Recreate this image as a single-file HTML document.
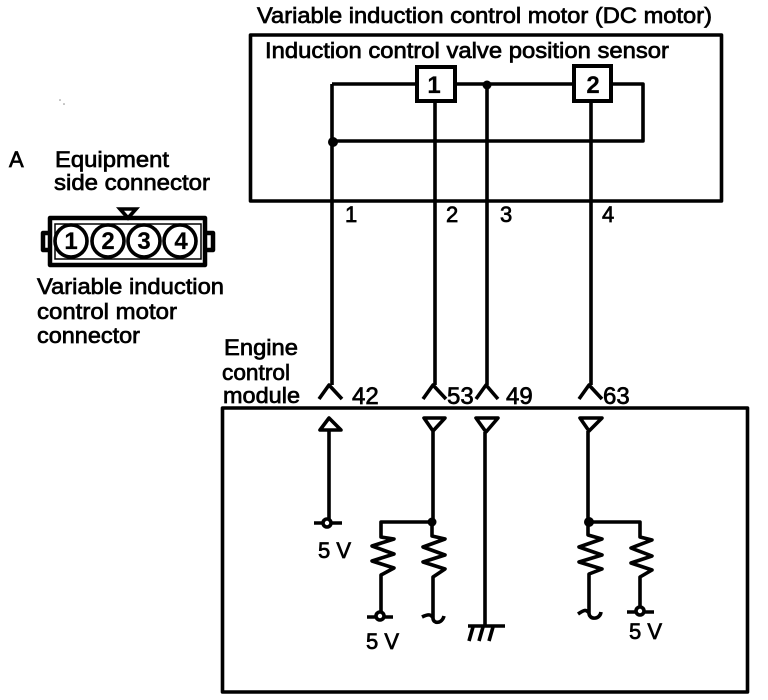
<!DOCTYPE html>
<html><head><meta charset="utf-8"><style>
html,body{margin:0;padding:0;background:#fff;width:768px;height:700px;overflow:hidden}
svg{display:block}
text{font-family:"Liberation Sans",sans-serif;font-size:22px;fill:#000;stroke:#000;stroke-width:.7px}
.w{fill:none;stroke:#000;stroke-width:3.6;stroke-linejoin:round}
.t{fill:#fff;stroke:#000;stroke-width:4}
.b{font-weight:bold;font-size:24px;stroke-width:.2px}
.n{font-size:24px}
</style></head><body>
<svg width="768" height="700" viewBox="0 0 768 700">
<rect width="768" height="700" fill="#fff"/>
<!-- boxes -->
<rect x="250.5" y="35" width="471" height="166" class="w"/>
<rect x="222.5" y="408" width="525" height="284" class="w"/>
<!-- top wiring -->
<path class="w" d="M332 84H416M456 84H573M612 84H643V141H332M332 84V385M435 102V385M487 84V385M591 102V385"/>
<circle cx="333" cy="142" r="5"/><circle cx="487" cy="85" r="4.5"/>
<rect x="417" y="67" width="38" height="34" class="t"/>
<rect x="574" y="66" width="37" height="35" class="t"/>
<text x="434" y="93" text-anchor="middle" class="b">1</text>
<text x="593" y="93" text-anchor="middle" class="b">2</text>
<!-- Y connectors -->
<path class="w" d="M319 399L329 385L342 399M423 399L433 385L446 399M476 399L486 385L498 399M579 399L589 385L602 399"/>
<!-- triangles -->
<path class="w" d="M329 430V520M329 418L320 430H341ZM424 418H445L433 431ZM433 431V522M476 418H498L486 432ZM485 432V626M580 418H602L589 431ZM588 431V522"/>
<!-- resistor networks -->
<path class="w" d="M432 522H381V537L394 539L372 546L394 554L372 561L394 568L381 575V612"/>
<path class="w" d="M432 522V536L445 539L423 547L445 555L423 562L445 569L433 577V618C433 624 442 624 444 616M433 618C431 614 428 614 422 617"/>
<path class="w" d="M588 522H640V537L652 540L631 548L652 556L631 563L652 570L640 577V610"/>
<path class="w" d="M588 522V535L602 539L579 547L602 555L579 562L602 569L589 574V613C589 620 600 620 601 612M589 613C586 609 584 610 578 614"/>
<circle cx="432" cy="522" r="4.5"/><circle cx="589" cy="522" r="5"/>
<!-- terminals -->
<g fill="#fff" stroke="#000" stroke-width="3.6">
<path d="M314 523H342M367 617H393M627 612H654"/>
<circle cx="327" cy="523" r="4"/><circle cx="380" cy="616" r="4"/><circle cx="640" cy="611" r="4"/>
</g>
<!-- ground -->
<path class="w" d="M468 626H505M473 627L469 641M483 627L479 641M493 627L489 641"/>
<!-- connector -->
<path class="w" style="stroke-width:4.5" d="M50 218H205V265H50ZM50 233H43V250H50M205 233H213V250H205"/>
<rect x="55" y="224" width="146" height="35" fill="none" stroke="#000" stroke-width="1.5"/>
<g fill="#fff" stroke="#000" stroke-width="3.6">
<circle cx="71" cy="241" r="16"/><circle cx="108" cy="241" r="16"/><circle cx="144" cy="241" r="16"/><circle cx="180" cy="241" r="16"/>
<path d="M120 209H136L128 218Z"/>
</g>
<text x="71" y="249" text-anchor="middle" class="b">1</text>
<text x="108" y="249" text-anchor="middle" class="b">2</text>
<text x="144" y="249" text-anchor="middle" class="b">3</text>
<text x="181" y="249" text-anchor="middle" class="b">4</text>
<!-- labels -->
<text x="257" y="23" textLength="455" lengthAdjust="spacingAndGlyphs">Variable induction control motor (DC motor)</text>
<text x="265" y="58" textLength="404" lengthAdjust="spacingAndGlyphs">Induction control valve position sensor</text>
<text x="9" y="167">A</text>
<text x="55" y="167" textLength="114" lengthAdjust="spacingAndGlyphs">Equipment</text>
<text x="54" y="190" textLength="156" lengthAdjust="spacingAndGlyphs">side connector</text>
<text x="37" y="294" textLength="187" lengthAdjust="spacingAndGlyphs">Variable induction</text>
<text x="37" y="319" textLength="140" lengthAdjust="spacingAndGlyphs">control motor</text>
<text x="37" y="343" textLength="103" lengthAdjust="spacingAndGlyphs">connector</text>
<text x="224" y="355" textLength="74" lengthAdjust="spacingAndGlyphs">Engine</text>
<text x="222" y="380" textLength="68" lengthAdjust="spacingAndGlyphs">control</text>
<text x="223" y="403" textLength="77" lengthAdjust="spacingAndGlyphs">module</text>
<text x="345" y="222">1</text><text x="446" y="222">2</text><text x="500" y="222">3</text><text x="602" y="222">4</text>
<text x="352" y="404" class="n">42</text><text x="447" y="404" class="n">53</text><text x="506" y="404" class="n">49</text><text x="603" y="404" class="n">63</text>
<text x="318" y="558">5 V</text>
<text x="366" y="649">5 V</text>
<text x="629" y="639">5 V</text>
<circle cx="60" cy="100" r=".8" fill="#888"/><circle cx="64" cy="104" r=".8" fill="#888"/>
</svg>
</body></html>
